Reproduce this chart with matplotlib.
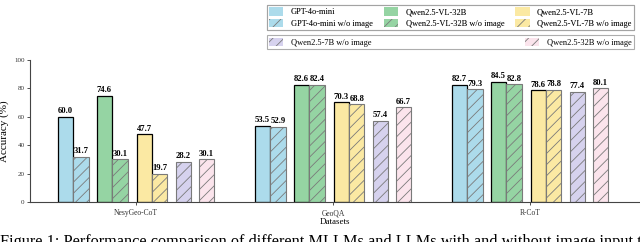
import numpy as np
import matplotlib
matplotlib.use("Agg")
import matplotlib.pyplot as plt
from matplotlib.patches import Patch

plt.rcParams['font.family'] = ['Liberation Serif', 'DejaVu Serif']
plt.rcParams['hatch.linewidth'] = 0.6

datasets = ["NesyGeo-CoT", "GeoQA", "R-CoT"]
models = ["GPT-4o-mini", "GPT-4o-mini w/o image",
          "Qwen2.5-VL-32B", "Qwen2.5-VL-32B w/o image",
          "Qwen2.5-VL-7B", "Qwen2.5-VL-7B w/o image",
          "Qwen2.5-7B w/o image", "Qwen2.5-32B w/o image"]
gpt4o_mini = [60.0, 53.5, 82.7]
gpt4o_mini_noimg = [31.7, 52.9, 79.3]
qwen_vl32 = [74.6, 82.6, 84.5]
qwen_vl32_noimg = [30.1, 82.4, 82.8]
qwen_vl7 = [47.7, 70.3, 78.6]
qwen_vl7_noimg = [19.7, 68.8, 78.8]
qwen7_noimg = [28.2, 57.4, 77.4]
qwen32_noimg = [30.1, 66.7, 80.1]

series = [gpt4o_mini, gpt4o_mini_noimg, qwen_vl32, qwen_vl32_noimg,
          qwen_vl7, qwen_vl7_noimg, qwen7_noimg, qwen32_noimg]
colors = ['#acdbeb', '#acdbeb', '#95d4a3', '#95d4a3',
          '#fbe9a3', '#fbe9a3', '#d6d2ee', '#fbe4ec']
hatched = [False, True, False, True, False, True, True, True]
offsets = [-0.359, -0.28, -0.161, -0.081, 0.042, 0.12, 0.24, 0.357]
width = 0.079

fig = plt.figure(figsize=(6.4, 2.42), dpi=100)
ax = fig.add_axes([0.047, 0.165, 0.953, 0.587])

x = np.arange(len(datasets))
for vals, c, h, off in zip(series, colors, hatched, offsets):
    if h:
        bars = ax.bar(x + off, vals, width, color=c, edgecolor='#7a7a7a',
                      hatch='///', linewidth=0.8)
    else:
        bars = ax.bar(x + off, vals, width, color=c, edgecolor='black',
                      linewidth=0.9)
    for b, v in zip(bars, vals):
        ax.text(b.get_x() + b.get_width() / 2, v + 1.2, f"{v:.1f}",
                ha='center', va='bottom', fontsize=6.2, fontweight='bold')

ax.set_xlim(-0.538, 2.558)
ax.set_ylim(0, 100)
ax.set_yticks([0, 20, 40, 60, 80, 100])
ax.set_xticks(x)
ax.set_xticklabels(datasets)
ax.tick_params(axis='y', labelsize=5, length=2.5, width=0.6, pad=1.5, colors='#333333')
ax.tick_params(axis='x', labelsize=5.5, length=2.5, width=0.6, pad=2.5, colors='#333333')
ax.set_xlabel("Datasets", fontsize=6.5, labelpad=1)
ax.set_ylabel("Accuracy (%)", fontsize=8)
ax.yaxis.set_label_coords(-0.034, 0.5)
for s in ['top', 'right']:
    ax.spines[s].set_visible(False)
for s in ['left', 'bottom']:
    ax.spines[s].set_linewidth(0.8)
    ax.spines[s].set_color('#444444')

# legends (row-wise order for the 3-column box)
order = [0, 2, 4, 1, 3, 5]
h1 = [Patch(facecolor=colors[i], edgecolor='#7a7a7a' if hatched[i] else 'none',
            hatch='///' if hatched[i] else None, linewidth=0.0,
            label=models[i]) for i in order]
h1_cols = [h1[0], h1[3], h1[1], h1[4], h1[2], h1[5]]
leg1 = fig.legend(handles=h1_cols, ncol=3, loc='upper left',
                  bbox_to_anchor=(0.41, 0.998, 0.587, 0.0), mode='expand',
                  fontsize=6, frameon=True, fancybox=False, edgecolor='#999999',
                  handlelength=1.7, handleheight=1.2, borderpad=0.3,
                  labelspacing=0.3, handletextpad=0.9, columnspacing=1.0)
leg1.get_frame().set_linewidth(0.8)

blank = Patch(facecolor='none', edgecolor='none', label=' ')
h2 = [Patch(facecolor=colors[6], edgecolor='#7a7a7a', hatch='///', linewidth=0.0,
            label=models[6]),
      blank,
      Patch(facecolor=colors[7], edgecolor='#7a7a7a', hatch='///', linewidth=0.0,
            label=models[7])]
leg2 = fig.legend(handles=h2, ncol=3, loc='upper left',
                  bbox_to_anchor=(0.41, 0.872, 0.587, 0.0), mode='expand',
                  fontsize=6, frameon=True, fancybox=False, edgecolor='#999999',
                  handlelength=1.7, handleheight=1.2, borderpad=0.3,
                  handletextpad=0.9, columnspacing=1.0)
leg2.get_frame().set_linewidth(0.8)
fig.add_artist(leg1)

# caption line, cut by the bottom edge as in the reference crop
fig.text(0.0, -0.018, "Figure 1: Performance comparison of different MLLMs and LLMs "
         "with and without image input to", fontsize=11.7, ha='left', va='baseline')

fig.savefig("out.png", dpi=100)
